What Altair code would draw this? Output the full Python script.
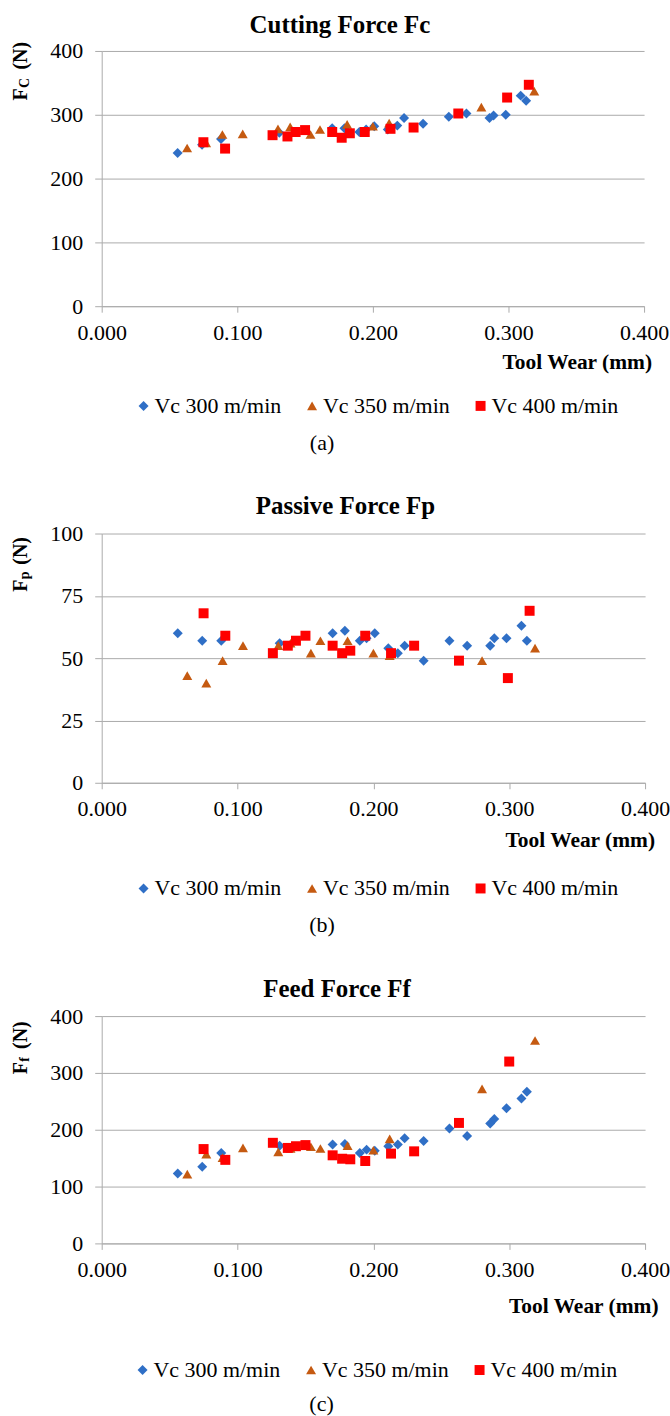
import altair as alt
import pandas as pd

# ---------------- data ----------------
SERIES = ["Vc 300 m/min", "Vc 350 m/min", "Vc 400 m/min"]
COLORS = ["#2F6FC6", "#C55A11", "#FF0000"]
SHAPES = ["diamond", "triangle-up", "square"]

wear_300 = [0.056, 0.074, 0.088, 0.131, 0.170, 0.179, 0.190, 0.195, 0.201, 0.211,
            0.218, 0.223, 0.237, 0.256, 0.269, 0.286, 0.289, 0.298, 0.309, 0.313]
fc_300 = [240, 253, 262, 272, 279, 279, 273, 277, 282, 277, 283, 295, 286, 297, 302, 295, 299, 300, 330, 322]
fp_300 = [60, 57, 57, 56, 60, 61, 57, 58, 60, 54, 52, 55, 49, 57, 55, 55, 58, 58, 63, 57]
ff_300 = [123, 135, 159, 172, 174, 175, 159, 165, 163, 171, 174, 185, 180, 202, 189, 211, 219, 238, 255, 267]

wear_350 = [0.063, 0.077, 0.089, 0.104, 0.130, 0.139, 0.154, 0.161, 0.181, 0.200, 0.212, 0.280, 0.319]
fc_350 = [248, 256, 269, 270, 278, 281, 269, 277, 285, 282, 287, 312, 337]
fp_350 = [43, 40, 49, 55, 55, 56, 52, 57, 57, 52, 51, 49, 54]
ff_350 = [122, 157, 151, 168, 161, 167, 170, 167, 172, 164, 184, 272, 357]

wear_400 = [0.075, 0.091, 0.126, 0.137, 0.143, 0.150, 0.170, 0.177, 0.183, 0.194,
            0.213, 0.230, 0.263, 0.299, 0.315]
fc_400 = [257, 247, 268, 266, 273, 276, 273, 264, 271, 273, 278, 280, 302, 327, 347]
fp_400 = [68, 59, 52, 55, 57, 59, 55, 52, 53, 59, 52, 55, 49, 42, 69]
wear_400_ff = [0.075, 0.091, 0.126, 0.137, 0.143, 0.150, 0.170, 0.177, 0.183, 0.194,
               0.213, 0.230, 0.263, 0.300]
ff_400 = [166, 147, 177, 168, 171, 173, 155, 149, 148, 145, 158, 162, 212, 320]

X_TICKS = [0.0, 0.1, 0.2, 0.3, 0.4]

FONT = "Liberation Serif"
GRID = "#ABABAB"
one = pd.DataFrame({"k": [0]})


def make_df(w300, v300, w350, v350, w400, v400):
    rows = []
    for s, xs, ys in zip(SERIES, [w300, w350, w400], [v300, v350, v400]):
        for x, y in zip(xs, ys):
            rows.append({"series": s, "wear": x, "force": y})
    return pd.DataFrame(rows)


def txt(text, x, y, size, weight="normal", align="center", baseline="alphabetic", angle=0):
    kw = dict(text=text, font=FONT, fontSize=size, fontWeight=weight,
              align=align, baseline=baseline, color="black")
    if angle:
        kw["angle"] = angle
    return alt.Chart(one).mark_text(**kw).encode(x=alt.value(x), y=alt.value(y))


def panel(df, p):
    W, H = p["W"], p["H"]
    leg = alt.Legend(orient="none", legendX=p["legx"], legendY=p["legy"], direction="horizontal",
                     title=None, labelFont=FONT, labelFontSize=22, labelColor="black",
                     symbolSize=100, symbolStrokeWidth=0, labelOffset=0, symbolOffset=5,
                     columnPadding=14, padding=0, columns=3)
    pts = alt.Chart(df).mark_point(filled=True, size=100, opacity=1, strokeWidth=0).encode(
        x=alt.X("wear:Q", scale=alt.Scale(domain=[0, 0.4], nice=False, zero=False),
                axis=alt.Axis(values=X_TICKS, format=".3f", title=None, grid=False,
                              labelFont=FONT, labelFontSize=22, labelColor="black",
                              labelPadding=10, labelFlush=False, labelOverlap=False,
                              tickSize=6, tickColor=GRID, domainColor=GRID)),
        y=alt.Y("force:Q", scale=alt.Scale(domain=[0, p["ymax"]], nice=False),
                axis=alt.Axis(values=p["yticks"], title=None, grid=True, gridColor=GRID,
                              labelFont=FONT, labelFontSize=22, labelColor="black",
                              labelPadding=12, tickSize=7, tickColor=GRID, domainColor=GRID)),
        color=alt.Color("series:N", scale=alt.Scale(domain=SERIES, range=COLORS), legend=leg),
        shape=alt.Shape("series:N", scale=alt.Scale(domain=SERIES, range=SHAPES), legend=leg),
    )
    frame = alt.Chart(one).mark_rule(color="white", strokeWidth=1).encode(
        x=alt.value(p["fleft"]), y=alt.value(p["ftop"]), y2=alt.value(p["fbottom"]))
    layers = [
        frame,
        pts,
        txt(p["title"], p["tx"], p["ty"], 25, weight="bold"),
        txt("F", -75, p["fy"], 20, weight="bold", align="left", angle=270),
        txt(p["sub"], -73, p["fy"] - 12.5, 14, weight="bold", align="left", angle=270),
        txt("(N)", -75, p["ny"], 20, weight="bold", align="left", angle=270),
        txt("Tool Wear (mm)", p["xtx"], p["xty"], 21.5, weight="bold", align="right", baseline="middle"),
        txt(p["cap"], p["capx"], p["capy"], 22, baseline="middle"),
    ]
    return alt.layer(*layers).properties(width=W, height=H)


P1 = dict(W=544, H=256, ymax=400, yticks=[0, 100, 200, 300, 400], title="Cutting Force Fc",
          tx=239, ty=-18, sub="C", fy=49.7, ny=18.7, xtx=552, xty=312.7,
          legx=26, legy=345, cap="(a)", capx=221, capy=393.7, fleft=-99.5, ftop=-47.8, fbottom=421.2)
P2 = dict(W=545, H=250, ymax=100, yticks=[0, 25, 50, 75, 100], title="Passive Force Fp",
          tx=244.5, ty=-20, sub="p", fy=58.3, ny=31.3, xtx=555, xty=308.3,
          legx=26, legy=345, cap="(b)", capx=221, capy=392.3, fleft=-99.5, ftop=-61.2, fbottom=417.8)
P3 = dict(W=545, H=228, ymax=400, yticks=[0, 100, 200, 300, 400], title="Feed Force Ff",
          tx=236, ty=-19, sub="f", fy=58.3, ny=33, xtx=558.5, xty=291.7,
          legx=25, legy=344, cap="(c)", capx=220.5, capy=389, fleft=-101, ftop=-64.5, fbottom=400.5)

df1 = make_df(wear_300, fc_300, wear_350, fc_350, wear_400, fc_400)
df2 = make_df(wear_300, fp_300, wear_350, fp_350, wear_400, fp_400)
df3 = make_df(wear_300, ff_300, wear_350, ff_350, wear_400_ff, ff_400)

chart = alt.vconcat(panel(df1, P1), panel(df2, P2), panel(df3, P3), spacing=0).resolve_scale(
    x="independent", y="independent", color="independent", shape="independent"
).properties(padding=0, background="white").configure_view(strokeWidth=0)

chart.save("out.html", embed_options={"renderer": "svg", "actions": False})
